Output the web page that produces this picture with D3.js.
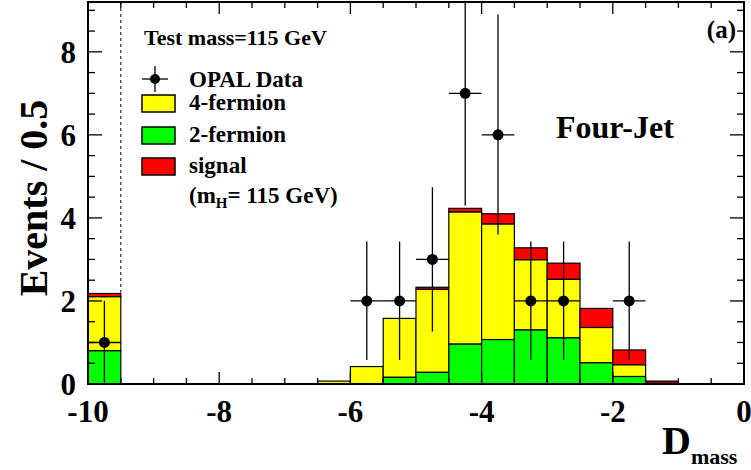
<!DOCTYPE html>
<html><head><meta charset="utf-8">
<script src="https://cdn.jsdelivr.net/npm/d3@7"></script>
<style>body{margin:0;background:#fff}svg{font-family:"Liberation Serif",serif;font-weight:bold}</style>
</head><body><svg id="c" width="751" height="470"></svg>
<script>
// bin edges (lower edge), width 0.5
var binLo = [-10, -6.5, -6, -5.5, -5, -4.5, -4, -3.5, -3, -2.5, -2, -1.5];
var twoFermion  = [0.80, 0, 0, 0.16, 0.28, 0.96, 1.07, 1.30, 1.11, 0.51, 0.18, 0];
var fourFermion = [1.30, 0.07, 0.42, 1.42, 2.00, 3.18, 2.78, 1.69, 1.41, 0.85, 0.28, 0];
var signal      = [0.08, 0, 0, 0, 0.05, 0.09, 0.25, 0.29, 0.39, 0.46, 0.36, 0.07];

var dataX  = [-9.75, -5.75, -5.25, -4.75, -4.25, -3.75, -3.25, -2.75, -1.75];
var dataN  = [1, 2, 2, 3, 7, 6, 2, 2, 2];
var dataLo = [0.0, 0.58, 0.58, 1.26, 4.3, 3.6, 0.58, 0.58, 0.58];
var dataHi = [2.0, 3.43, 3.43, 4.74, 9.9, 8.9, 3.43, 3.43, 3.43];

var svg = d3.select("#c");
var x = d3.scaleLinear().domain([-10, 0]).range([88, 744]);
var y = d3.scaleLinear().domain([0, 9.2]).range([384, 2]);
var g = svg.append("g");

// stacked histogram
binLo.forEach(function(b, i) {
  var x0 = x(b), x1 = x(b + 0.5);
  var s1 = twoFermion[i], s2 = s1 + fourFermion[i], s3 = s2 + signal[i];
  var layers = [[s2, s3, "#ff0000"], [s1, s2, "#ffff00"], [0, s1, "#00ff00"]];
  layers.forEach(function(l) {
    if (l[1] - l[0] <= 0) return;
    g.append("rect").attr("x", x0).attr("width", x1 - x0)
      .attr("y", y(l[1])).attr("height", y(l[0]) - y(l[1]))
      .attr("fill", i == 11 ? "#990000" : l[2]).attr("stroke", "#000").attr("stroke-width", 1.2);
  });
});

// dashed cut line
g.append("line").attr("x1", x(-9.5)).attr("x2", x(-9.5)).attr("y1", y(9.2)).attr("y2", y(2.2))
  .attr("stroke", "#000").attr("stroke-dasharray", "3,3");

// data points
dataX.forEach(function(d, i) {
  g.append("line").attr("x1", x(d - 0.25)).attr("x2", x(d + 0.25)).attr("y1", y(dataN[i])).attr("y2", y(dataN[i])).attr("stroke", "#000").attr("stroke-width", 1.3);
  g.append("line").attr("x1", x(d)).attr("x2", x(d)).attr("y1", y(Math.min(dataHi[i], 9.2))).attr("y2", y(dataLo[i])).attr("stroke", "#000").attr("stroke-width", 1.3);
  g.append("circle").attr("cx", x(d)).attr("cy", y(dataN[i])).attr("r", 5.5).attr("fill", "#000");
});

// frame + ticks
svg.append("rect").attr("x", 88).attr("y", 2).attr("width", 656).attr("height", 382).attr("fill", "none").attr("stroke", "#000").attr("stroke-width", 2);
d3.range(-10, 0.01, 0.5).forEach(function(t) {
  var len = (Math.abs(t % 2) < 1e-6) ? 12 : 6;
  svg.append("line").attr("x1", x(t)).attr("x2", x(t)).attr("y1", 384).attr("y2", 384 - len).attr("stroke", "#000").attr("stroke-width", 1.3);
  svg.append("line").attr("x1", x(t)).attr("x2", x(t)).attr("y1", 2).attr("y2", 2 + len).attr("stroke", "#000").attr("stroke-width", 1.3);
});
d3.range(0, 9.2, 0.5).forEach(function(t) {
  var len = (Math.abs(t % 2) < 1e-6) ? 14 : 7;
  svg.append("line").attr("x1", 88).attr("x2", 88 + len).attr("y1", y(t)).attr("y2", y(t)).attr("stroke", "#000").attr("stroke-width", 1.3);
  svg.append("line").attr("x1", 744).attr("x2", 744 - len).attr("y1", y(t)).attr("y2", y(t)).attr("stroke", "#000").attr("stroke-width", 1.3);
});
[-10, -8, -6, -4, -2, 0].forEach(function(t) {
  svg.append("text").attr("x", x(t)).attr("y", 422).attr("text-anchor", "middle").attr("font-size", 31).text(t);
});
[0, 2, 4, 6, 8].forEach(function(t) {
  svg.append("text").attr("x", 76).attr("y", y(t) + 11).attr("text-anchor", "end").attr("font-size", 31).text(t);
});

// axis titles
svg.append("text").attr("transform", "translate(47,198) rotate(-90)").attr("text-anchor", "middle").attr("font-size", 40).text("Events / 0.5");
var xt = svg.append("text").attr("x", 662).attr("y", 454).attr("font-size", 40);
xt.append("tspan").text("D");
xt.append("tspan").attr("font-size", 22).attr("dy", 10).text("mass");

// labels
svg.append("text").attr("x", 144).attr("y", 45).attr("font-size", 22).text("Test mass=115 GeV");
svg.append("text").attr("x", 736).attr("y", 38).attr("text-anchor", "end").attr("font-size", 25).text("(a)");
svg.append("text").attr("x", 556).attr("y", 138).attr("font-size", 32).text("Four-Jet");

// legend
var lg = svg.append("g");
lg.append("line").attr("x1", 142).attr("x2", 168).attr("y1", 79).attr("y2", 79).attr("stroke", "#000").attr("stroke-width", 1.3);
lg.append("line").attr("x1", 155).attr("x2", 155).attr("y1", 66).attr("y2", 92).attr("stroke", "#000").attr("stroke-width", 1.3);
lg.append("circle").attr("cx", 155).attr("cy", 79).attr("r", 5).attr("fill", "#000");
lg.append("text").attr("x", 189).attr("y", 87).attr("font-size", 23).text("OPAL Data");
[["#ffff00", "4-fermion", 108], ["#00ff00", "2-fermion", 140], ["#ff0000", "signal", 171]].forEach(function(e) {
  lg.append("rect").attr("x", 142).attr("y", e[2] - 13).attr("width", 33).attr("height", 17).attr("fill", e[0]).attr("stroke", "#000").attr("stroke-width", 1.5);
  lg.append("text").attr("x", 189).attr("y", e[2] + 2).attr("font-size", 23).text(e[1]);
});
var mh = lg.append("text").attr("x", 189).attr("y", 203).attr("font-size", 23);
mh.append("tspan").text("(m");
mh.append("tspan").attr("font-size", 15).attr("dy", 5).text("H");
mh.append("tspan").attr("dy", -5).text("= 115 GeV)");
</script></body></html>
